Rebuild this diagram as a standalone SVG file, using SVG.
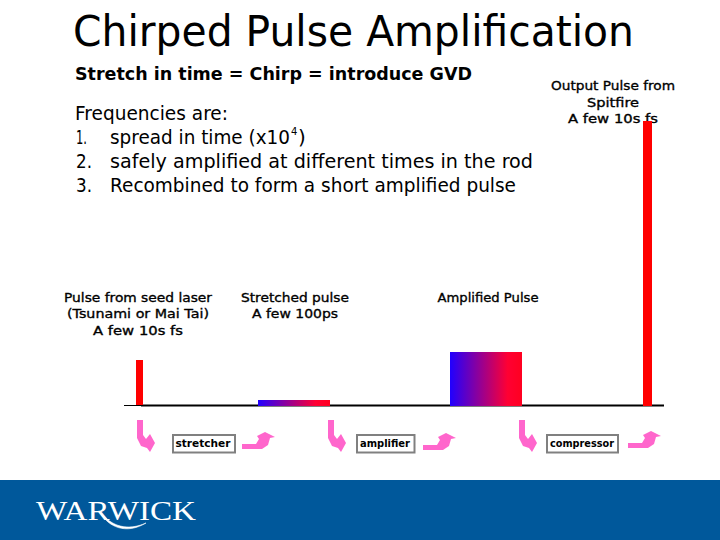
<svg xmlns="http://www.w3.org/2000/svg" width="720" height="540" viewBox="0 0 720 540">
<style>
text{font-family:"DejaVu Sans","Liberation Sans",sans-serif;fill:#000}
.title{font-size:43px}
.body{font-size:20px}
.sub{font-size:18px;font-weight:bold}
.lab{font-size:13px;text-anchor:middle;stroke:#000;stroke-width:0.35}
.box rect{fill:#fff;stroke:#808080;stroke-width:2}
.box text{font-size:11px;font-weight:bold;text-anchor:middle}
.pink{fill:#ff66cc}
</style>
<defs>
<linearGradient id="chirp"><stop offset="0" stop-color="#2000ff"/><stop offset="0.8" stop-color="#ff0033"/><stop offset="1" stop-color="#ff0020"/></linearGradient>
<polygon id="down" class="pink" points="0,0 6,0 6,15 9,19 13,14 18,23 13,32 10,28 4,26 0,18"/>
<polygon id="up" class="pink" points="0,0 14,0 17,-5 15,-8 23,-12 33,-7 28,-6 26,1 20,5 0,5"/>
</defs>
<rect width="720" height="540" fill="#fff"/>
<g id="texts">
<text class="title" x="73" y="46" textLength="561" lengthAdjust="spacingAndGlyphs">Chirped Pulse Amplification</text>
<text class="sub" x="75" y="80" textLength="397" lengthAdjust="spacingAndGlyphs">Stretch in time = Chirp = introduce GVD</text>
<text class="body" x="75" y="120" textLength="153" lengthAdjust="spacingAndGlyphs">Frequencies are:</text>
<text class="body" x="76" y="144" textLength="11" lengthAdjust="spacingAndGlyphs">1.</text>
<text class="body" x="110" y="144" textLength="180" lengthAdjust="spacingAndGlyphs">spread in time (x10</text>
<text x="291" y="135" font-size="10">4</text>
<text class="body" x="298" y="144">)</text>
<text class="body" x="76" y="168" textLength="16" lengthAdjust="spacingAndGlyphs">2.</text>
<text class="body" x="110" y="168" textLength="423" lengthAdjust="spacingAndGlyphs">safely amplified at different times in the rod</text>
<text class="body" x="76" y="192" textLength="16" lengthAdjust="spacingAndGlyphs">3.</text>
<text class="body" x="110" y="192" textLength="406" lengthAdjust="spacingAndGlyphs">Recombined to form a short amplified pulse</text>
<text class="lab" x="613" y="90" textLength="124" lengthAdjust="spacingAndGlyphs">Output Pulse from</text>
<text class="lab" x="613" y="107" textLength="52" lengthAdjust="spacingAndGlyphs">Spitfire</text>
<text class="lab" x="613" y="123" textLength="90" lengthAdjust="spacingAndGlyphs">A few 10s fs</text>
<text class="lab" x="138" y="302" textLength="148" lengthAdjust="spacingAndGlyphs">Pulse from seed laser</text>
<text class="lab" x="138" y="318" textLength="142" lengthAdjust="spacingAndGlyphs">(Tsunami or Mai Tai)</text>
<text class="lab" x="138" y="335" textLength="90" lengthAdjust="spacingAndGlyphs">A few 10s fs</text>
<text class="lab" x="295" y="302" textLength="108" lengthAdjust="spacingAndGlyphs">Stretched pulse</text>
<text class="lab" x="295" y="318" textLength="86" lengthAdjust="spacingAndGlyphs">A few 100ps</text>
<text class="lab" x="488" y="302" textLength="101" lengthAdjust="spacingAndGlyphs">Amplified Pulse</text>
</g>
<g id="connectors">
<path d="M124 405.5H141" stroke="#000" stroke-width="1" fill="none"/>
<path d="M141 405.5H664" stroke="#000" stroke-width="2" fill="none"/>
<use href="#down" x="137" y="420"/>
<use href="#up" x="242" y="444"/>
<use href="#down" x="328" y="420"/>
<use href="#up" x="423" y="445"/>
<use href="#down" x="519" y="420"/>
<use href="#up" x="628" y="443"/>
</g>
<g id="pulse-seed"><rect x="136" y="360" width="7" height="45" fill="#f00"/></g>
<g id="pulse-stretched"><rect x="258" y="400" width="72" height="6" fill="url(#chirp)"/></g>
<g id="pulse-amplified"><rect x="450" y="352" width="72" height="54" fill="url(#chirp)"/></g>
<g id="pulse-output"><rect x="643" y="121" width="9" height="285" fill="#f00"/></g>
<g id="stretcher" class="box"><rect x="173" y="435" width="62" height="17.500"/><text x="203" y="447" textLength="55" lengthAdjust="spacingAndGlyphs">stretcher</text></g>
<g id="amplifier" class="box"><rect x="357" y="435" width="57.500" height="17.500"/><text x="385" y="447" textLength="50" lengthAdjust="spacingAndGlyphs">amplifier</text></g>
<g id="compressor" class="box"><rect x="547" y="435" width="71" height="17.500"/><text x="582" y="447" textLength="64" lengthAdjust="spacingAndGlyphs">compressor</text></g>
<g id="footer">
<rect x="0" y="480" width="720" height="60" fill="#00589b"/>
<text x="36" y="520" font-size="28" style="font-family:'Liberation Serif',serif;fill:#fff" textLength="160" lengthAdjust="spacingAndGlyphs">WARWICK</text>
<path d="M100 512C108 527 126 535 146 523C128 531 112 527 100 512Z" fill="#fff" stroke="#fff" stroke-width="0.6"/>
</g>
</svg>
